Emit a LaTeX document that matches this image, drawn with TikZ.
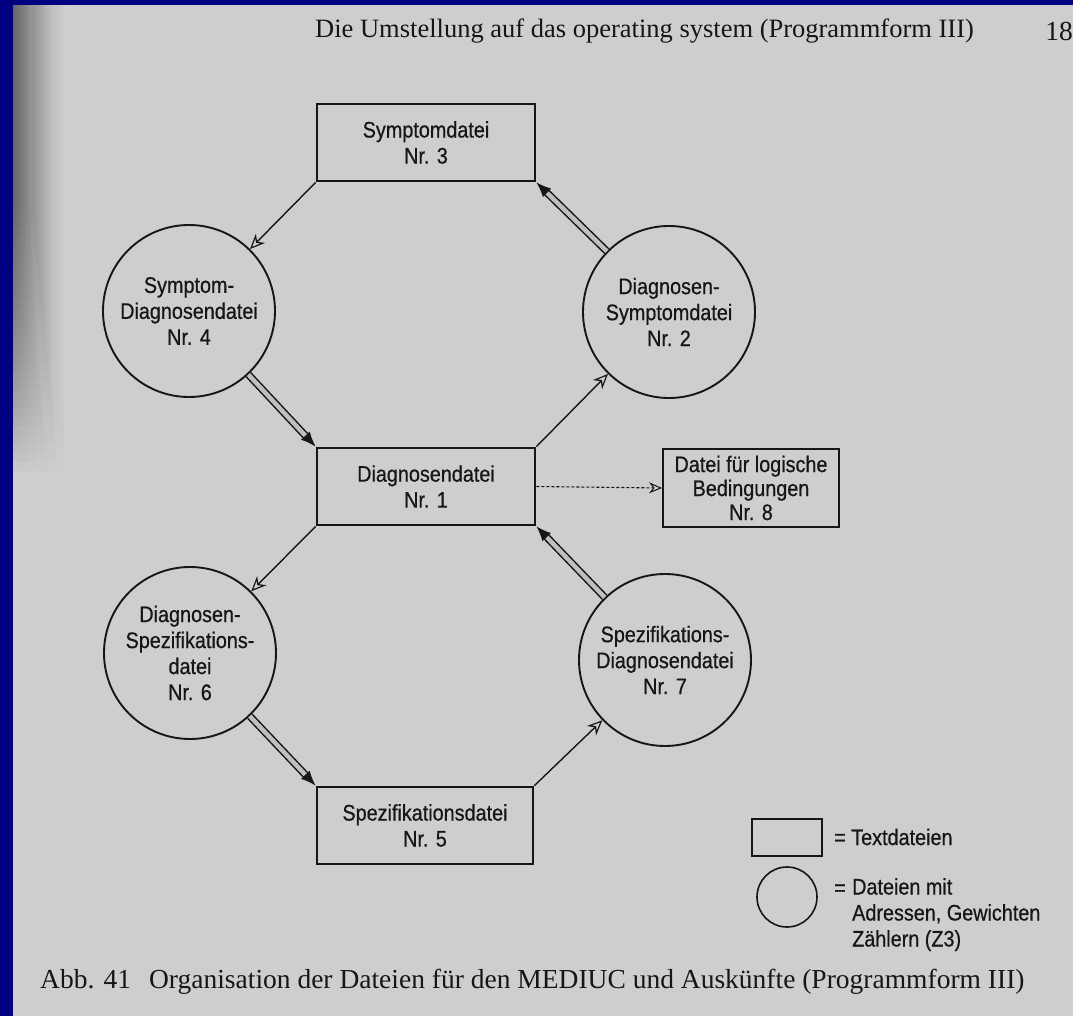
\documentclass[tikz,border=0pt]{standalone}
\usepackage{fontspec}
\setmainfont{Liberation Serif}
\newfontfamily\diagfont[FakeStretch=0.88, FakeBold=0.6]{Liberation Sans}
\usetikzlibrary{arrows.meta}
\definecolor{paper}{RGB}{206,206,206}
\definecolor{scanblue}{RGB}{0,0,128}
\definecolor{ink}{RGB}{22,22,22}
\tikzset{
  dfont/.style={font={\diagfont\fontsize{22.5}{26}\selectfont}},
  filebox/.style={draw=ink, line width=2.6pt, minimum width=218pt, minimum height=77pt,
    inner sep=0pt, align=center, text=ink, dfont},
  filecirc/.style={draw=ink, circle, line width=1.9pt, minimum size=172pt,
    inner sep=0pt, align=center, text=ink, dfont},
  thinarrow/.style={draw=ink, line width=1.4pt,
    -{Stealth[open, length=15pt, width=13pt, line width=1.2pt]}},
  thickarrow/.style={draw=ink, line width=1.5pt, double=gray!50, double distance=4.5pt,
    -{Latex[length=15pt, width=12pt]}},
  dotarrow/.style={draw=ink, line width=1.1pt, densely dashed,
    -{Stealth[open, length=13pt, width=11pt, line width=1pt]}},
  legtext/.style={inner sep=0pt, align=left, text=ink, dfont},
  serif/.style={inner sep=0pt, font={\fontsize{27.5}{32}\selectfont}, text=ink}
}
\begin{document}
\begin{tikzpicture}[x=1pt, y=-1pt]
\useasboundingbox (0,0) rectangle (1073,1016);
\fill[paper] (0,0) rectangle (1073,1016);
% gutter shadow of the scanned page
\foreach \i in {1,...,30}{
  \shade[left color=black!70, right color=paper, opacity=0.045]
    (13,5) rectangle ({36+\i},{200+9*\i});
}
\fill[scanblue] (0,0) rectangle (1073,5);
\fill[scanblue] (0,0) rectangle (13,1016);

% header
\node[serif, anchor=west, font={\fontsize{26.5}{32}\selectfont}] (hdr) at (315,31) {Die Umstellung auf das operating system (Programmform III)};
\node[serif, anchor=east] (pg) at (1073,31) {18};

% file boxes
\node[filebox] (n3) at (426,142.5) {Symptomdatei\\Nr. 3};
\node[filebox] (n1) at (426,486.5) {Diagnosendatei\\Nr. 1};
\node[filebox, minimum width=216pt] (n5) at (425,825.5) {Spezifikationsdatei\\Nr. 5};
\node[filebox, line width=1.9pt, minimum width=176pt, minimum height=78pt,
      font={\diagfont\fontsize{22.5}{24}\selectfont}] (n8) at (751,488)
      {Datei für logische\\Bedingungen\\Nr. 8};

% circles
\node[filecirc] (n4) at (189,311) {Symptom-\\Diagnosendatei\\Nr. 4};
\node[filecirc] (n2) at (669,312) {Diagnosen-\\Symptomdatei\\Nr. 2};
\node[filecirc] (n6) at (190,653) {Diagnosen-\\Spezifikations-\\datei\\Nr. 6};
\node[filecirc] (n7) at (665,660) {Spezifikations-\\Diagnosendatei\\Nr. 7};

% connectors
\draw[thinarrow] (n3.south west) -- (n4);
\draw[thickarrow] (n2) -- (n3.south east);
\draw[thickarrow] (n4) -- (n1.north west);
\draw[thinarrow] (n1.north east) -- (n2);
\draw[thinarrow] (n1.south west) -- (n6);
\draw[thickarrow] (n7) -- (n1.south east);
\draw[thickarrow] (n6) -- (n5.north west);
\draw[thinarrow] (n5.north east) -- (n7);
\draw[dotarrow] (n1.east) -- (n8.west);

% legend
\node[draw=ink, line width=1.6pt, minimum width=70pt, minimum height=37pt, inner sep=0pt] (lr) at (787,837.5) {};
\node[draw=ink, circle, line width=1.6pt, minimum size=60pt, inner sep=0pt] (lc) at (787,897) {};
\node[legtext, anchor=west] (lt1) at (834,837) {= Textdateien};
\node[legtext, anchor=west] (lt2eq) at (834,890) {=};
\node[legtext, anchor=north west] (lt2) at (852,878) {Dateien mit\\Adressen, Gewichten\\Zählern (Z3)};

% caption
\node[serif, anchor=west] (cap) at (40,982) {Abb. 41\hspace{18pt}Organisation der Dateien für den MEDIUC und Auskünfte (Programmform III)};
\end{tikzpicture}
\end{document}
